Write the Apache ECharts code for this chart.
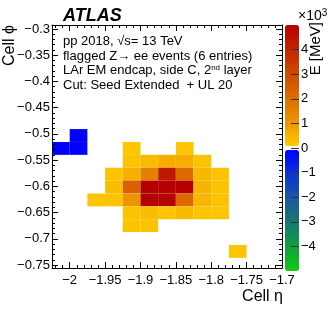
<!DOCTYPE html>
<html><head><meta charset="utf-8">
<script src="https://cdn.jsdelivr.net/npm/echarts@6/dist/echarts.min.js"></script>
<style>html,body{margin:0;padding:0;background:#fff}#c{width:332px;height:319px}</style>
</head><body><div id="c"></div>
<script>
// ---- data ----
const xTicks = [-2, -1.95, -1.9, -1.85, -1.8, -1.75, -1.7];
const yTicks = [-0.75, -0.7, -0.65, -0.6, -0.55, -0.5, -0.45, -0.4, -0.35, -0.3];
const zTicks = [-4, -3, -2, -1, 0, 1, 2, 3, 4];

// positive-energy cells (cell centres in eta / phi, energy in MeV)
const posEta = [
  -1.9125, -1.8375,
  -1.9125, -1.8875, -1.8625, -1.8375, -1.8125,
  -1.9375, -1.9125, -1.8875, -1.8625, -1.8375, -1.8125, -1.7875,
  -1.9375, -1.9125, -1.8875, -1.8625, -1.8375, -1.8125, -1.7875,
  -1.9625, -1.9375, -1.9125, -1.8875, -1.8625, -1.8375, -1.8125, -1.7875,
  -1.9125, -1.8875, -1.8625, -1.8375, -1.8125, -1.7875,
  -1.9125, -1.8875,
  -1.7625
];
const posPhi = [
  -0.5277, -0.5277,
  -0.5522, -0.5522, -0.5522, -0.5522, -0.5522,
  -0.5768, -0.5768, -0.5768, -0.5768, -0.5768, -0.5768, -0.5768,
  -0.6013, -0.6013, -0.6013, -0.6013, -0.6013, -0.6013, -0.6013,
  -0.6259, -0.6259, -0.6259, -0.6259, -0.6259, -0.6259, -0.6259, -0.6259,
  -0.6504, -0.6504, -0.6504, -0.6504, -0.6504, -0.6504,
  -0.6749, -0.6749,
  -0.7240
];
const posE = [
  100, 100,
  150, 300, 550, 550, 150,
  150, 500, 1500, 4300, 2000, 350, 150,
  250, 2300, 5000, 5000, 5000, 450, 150,
  120, 150, 1000, 5000, 5000, 2100, 400, 150,
  150, 250, 120, 300, 150, 120,
  150, 150,
  120
];
// negative-energy cells
const negEta = [-1.9875, -2.0125, -1.9875];
const negPhi = [-0.5031, -0.5277, -0.5277];
const negE = [-30, -30, -30];

// ---- styling constants ----
const XMIN = -2.025, XMAX = -1.7;
const YMIN = -0.7557, YMAX = -0.2924;
const DETA = 0.025, DPHI = 2 * Math.PI / 256;
const FONT = '"Liberation Sans", Arial, Helvetica, sans-serif';
const POS_COLORS = ['#ffcc00', '#eb9400', '#dc6c00', '#cf4a00', '#c22400', '#b40000'];
const NEG_COLORS = ['#10cc10', '#10a040', '#187870', '#1a58a0', '#0c34d4', '#0000ff'];

function steps(a, b, s) { const out = []; for (let v = a; v <= b + 1e-9; v += s) out.push(Math.round(v * 1000) / 1000); return out; }
const xMinor = steps(-2.02, -1.70, 0.01);
const yMinor = steps(-0.75, -0.30, 0.01);
function fmtMinus(v) { return v < 0 ? '\u2212' + String(Math.round(-v * 1000) / 1000) : String(v); }

const toData = (ex, ph, en) => ex.map((e, i) => [e, ph[i], en[i]]);

function renderCell(params, api) {
  const eta = api.value(0), phi = api.value(1);
  const p0 = api.coord([eta - DETA / 2, phi + DPHI / 2]);
  const p1 = api.coord([eta + DETA / 2, phi - DPHI / 2]);
  return { type: 'rect', shape: { x: p0[0], y: p0[1], width: p1[0] - p0[0], height: p1[1] - p0[1] },
    style: { fill: api.visual('color') } };
}

const lineBlack = { color: '#000', width: 1 };
function xAx(pos, ticks, len, labels, line) {
  return { type: 'value', gridIndex: 0, position: pos, min: XMIN, max: XMAX, z: 5,
    axisLine: { show: line, onZero: false, lineStyle: lineBlack },
    axisTick: { show: true, inside: true, length: len, customValues: ticks, lineStyle: lineBlack },
    axisLabel: labels ? { show: true, customValues: xTicks, formatter: fmtMinus, margin: 6, color: '#000', fontSize: 13, fontFamily: FONT } : { show: false },
    splitLine: { show: false }, minorTick: { show: false } };
}
function yAx(pos, ticks, len, labels, line) {
  return { type: 'value', gridIndex: 0, position: pos, min: YMIN, max: YMAX, z: 5,
    axisLine: { show: line, onZero: false, lineStyle: lineBlack },
    axisTick: { show: true, inside: true, length: len, customValues: ticks, lineStyle: lineBlack },
    axisLabel: labels ? { show: true, customValues: yTicks, formatter: fmtMinus, margin: 2, color: '#000', fontSize: 13, fontFamily: FONT } : { show: false },
    splitLine: { show: false }, minorTick: { show: false } };
}

const option = {
  animation: false,
  backgroundColor: '#fff',
  grid: [
    { left: 52, top: 25, width: 230, height: 243 },
    { left: 285, top: 25, width: 14, height: 246 }
  ],
  xAxis: [
    xAx('bottom', xTicks, 6, true, true),
    xAx('bottom', xMinor, 3, false, false),
    xAx('top', xTicks, 6, false, true),
    xAx('top', xMinor, 3, false, false),
    { type: 'value', gridIndex: 1, show: false, min: 0, max: 1 }
  ],
  yAxis: [
    yAx('left', yTicks, 6, true, true),
    yAx('left', yMinor, 3, false, false),
    yAx('right', yTicks, 6, false, true),
    yAx('right', yMinor, 3, false, false),
    { type: 'value', gridIndex: 1, position: 'right', min: -5, max: 5, interval: 1, z: 20,
      axisLine: { show: false, onZero: false },
      axisTick: { show: true, inside: true, length: 8, customValues: zTicks, lineStyle: { color: '#333', width: 1 } },
      axisLabel: { show: true, customValues: zTicks, formatter: fmtMinus, margin: 2, color: '#000', fontSize: 13, fontFamily: FONT },
      splitLine: { show: false } }
  ],
  visualMap: [
    { type: 'continuous', seriesIndex: 0, dimension: 2, min: 0, max: 5000, inRange: { color: POS_COLORS },
      left: 285, top: 25, itemWidth: 14, itemHeight: 121, padding: 0, calculable: false, hoverLink: false, orient: 'vertical' },
    { type: 'continuous', seriesIndex: 1, dimension: 2, min: -5000, max: 0, inRange: { color: NEG_COLORS },
      left: 285, top: 150, itemWidth: 14, itemHeight: 121, padding: 0, calculable: false, hoverLink: false, orient: 'vertical' }
  ],
  series: [
    { type: 'custom', xAxisIndex: 0, yAxisIndex: 0, renderItem: renderCell, encode: { x: 0, y: 1 }, clip: true, z: 1,
      data: toData(posEta, posPhi, posE) },
    { type: 'custom', xAxisIndex: 0, yAxisIndex: 0, renderItem: renderCell, encode: { x: 0, y: 1 }, clip: true, z: 1,
      data: toData(negEta, negPhi, negE) }
  ],
  graphic: [
    { type: 'text', x: 63, y: 16, z: 50, style: { text: 'ATLAS', fontSize: 18, fontWeight: 'bold', fontStyle: 'italic', fontFamily: FONT, fill: '#000', verticalAlign: 'middle' } },
    { type: 'text', x: 63, y: 41.5, z: 50, style: { text: 'pp 2018, \u221As= 13 TeV', fontSize: 13, fontFamily: FONT, fill: '#000', verticalAlign: 'middle' } },
    { type: 'text', x: 63, y: 56, z: 50, style: { text: 'flagged Z\u2192 ee events (6 entries)', fontSize: 13, fontFamily: FONT, fill: '#000', verticalAlign: 'middle' } },
    { type: 'text', x: 63, y: 70.5, z: 50, style: { text: 'LAr EM endcap, side C, 2{sup|nd} layer', fontSize: 13, fontFamily: FONT, fill: '#000', verticalAlign: 'middle',
        rich: { sup: { fontSize: 8, fontFamily: FONT, fill: '#000', verticalAlign: 'top', padding: [0, 0, 6, 0] } } } },
    { type: 'text', x: 63, y: 85, z: 50, style: { text: 'Cut: Seed Extended  + UL 20', fontSize: 13, fontFamily: FONT, fill: '#000', verticalAlign: 'middle' } },
    { type: 'text', x: 283, y: 297, z: 50, style: { text: 'Cell \u03B7', fontSize: 16, fontFamily: FONT, fill: '#000', align: 'right', verticalAlign: 'middle' } },
    { type: 'text', x: 10, y: 25, rotation: Math.PI / 2, z: 50, style: { text: 'Cell \u03D5', fontSize: 16, fontFamily: FONT, fill: '#000', align: 'right', verticalAlign: 'middle' } },
    { type: 'text', x: 316, y: 22, rotation: Math.PI / 2, z: 50, style: { text: 'E [MeV]', fontSize: 15, fontFamily: FONT, fill: '#000', align: 'right', verticalAlign: 'middle' } },
    { type: 'text', x: 298, y: 16, z: 50, style: { text: '\u00D710{sup|3}', fontSize: 14, fontFamily: FONT, fill: '#000', verticalAlign: 'middle',
        rich: { sup: { fontSize: 10, fontFamily: FONT, fill: '#000', verticalAlign: 'top', padding: [0, 0, 6, 0] } } } }
  ]
};
const chart = echarts.init(document.getElementById('c'), null, { renderer: 'canvas' });
chart.setOption(option);
</script>
</body></html>
